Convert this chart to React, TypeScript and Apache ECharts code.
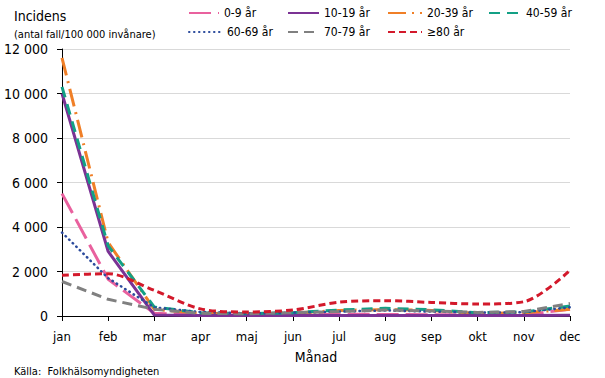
import React, { useEffect, useRef } from "react";
import * as echarts from "echarts";

const months = ["jan", "feb", "mar", "apr", "maj", "jun", "jul", "aug", "sep", "okt", "nov", "dec"];
const seriesNames = ["0-9 år", "10-19 år", "20-39 år", "40-59 år", "60-69 år", "70-79 år", "≥80 år"];
const age0_9 = [5500, 1650, 120, 50, 40, 60, 80, 70, 60, 50, 60, 300];
const age10_19 = [10000, 2900, 40, 20, 20, 20, 20, 20, 20, 20, 20, 30];
const age20_39 = [11600, 3300, 300, 120, 90, 130, 250, 290, 250, 120, 150, 300];
const age40_59 = [10300, 3150, 400, 150, 100, 150, 270, 350, 280, 150, 180, 450];
const age60_69 = [3750, 1700, 380, 180, 120, 150, 200, 250, 200, 150, 170, 390];
const age70_79 = [1550, 750, 300, 120, 100, 150, 200, 270, 230, 160, 200, 560];
const age80 = [1830, 1900, 1150, 320, 180, 270, 620, 690, 610, 540, 640, 2050];
const yTicks = [0, 2000, 4000, 6000, 8000, 10000, 12000];

const colors = ["#E9619E", "#7B3294", "#F07F27", "#13A085", "#2B4A9C", "#808080", "#D3192B"];
const dashes: (number[] | string)[] = [[22, 7], "solid", [18, 6, 2, 6], [11, 7], [0.5, 4.5], [10, 6], [7, 4]];
const allData = [age0_9, age10_19, age20_39, age40_59, age60_69, age70_79, age80];

const FONT = "'DejaVu Sans Condensed', 'Liberation Sans', sans-serif";

const legendLeft = [188, 287, 387, 488, 188, 287, 387];
const legendTop = [6, 6, 6, 6, 25, 25, 25];
const legendW = [30, 31, 34, 32, 33, 31, 34];

export default function App() {
  const ref = useRef<HTMLDivElement>(null);
  useEffect(() => {
    const chart = echarts.init(ref.current!, undefined, { renderer: "svg" });
    const fmt = (v: number) => String(v).replace(/\B(?=(\d{3})+(?!\d))/g, " ");
    chart.setOption({
      animation: false,
      textStyle: { fontFamily: FONT },
      grid: { left: 62, right: 35, top: 49, bottom: 62 },
      title: [
        { text: "Incidens", left: 9, top: 4, textStyle: { fontFamily: FONT, fontSize: 14, fontWeight: "normal", color: "#000" } },
        { text: "(antal fall/100 000 invånare)", left: 9, top: 24, textStyle: { fontFamily: FONT, fontSize: 11, fontWeight: "normal", color: "#000" } },
        { text: "Källa:  Folkhälsomyndigheten", left: 9, top: 361, textStyle: { fontFamily: FONT, fontSize: 11, fontWeight: "normal", color: "#000" } },
      ],
      legend: seriesNames.map((n, i) => ({
        data: [n],
        left: legendLeft[i],
        top: legendTop[i],
        itemWidth: legendW[i],
        itemHeight: 14,
        padding: 0,
        itemStyle: { opacity: 0 },
        textStyle: { fontFamily: FONT, fontSize: 12, color: "#000", lineHeight: 14 },
      })),
      xAxis: {
        type: "category",
        data: months,
        boundaryGap: false,
        name: "Månad",
        nameLocation: "middle",
        nameGap: 34,
        nameTextStyle: { fontFamily: FONT, fontSize: 14, color: "#000" },
        axisLine: { lineStyle: { color: "#000", width: 1 } },
        axisTick: { alignWithLabel: true, length: 5, lineStyle: { color: "#000" } },
        axisLabel: { fontFamily: FONT, fontSize: 13, color: "#000", margin: 14 },
      },
      yAxis: {
        type: "value",
        min: 0,
        max: 12000,
        interval: 2000,
        axisLine: { show: true, lineStyle: { color: "#000", width: 1 } },
        axisTick: { show: true, length: 5, lineStyle: { color: "#000" } },
        axisLabel: { fontFamily: FONT, fontSize: 14, color: "#000", margin: 14, formatter: (v: number) => (yTicks.includes(v) ? fmt(v) : "") },
        splitLine: { lineStyle: { color: "#D9D9D9", width: 1 } },
      },
      series: seriesNames.map((name, i) => ({
        name,
        type: "line",
        data: allData[i],
        symbol: "none",
        smooth: i === 6 ? 0.3 : false,
        z: i === 1 ? 5 : 2 + i,
        lineStyle: { color: colors[i], width: i === 4 ? 2.5 : 3, type: dashes[i], cap: i === 4 ? "round" : "butt" },
        itemStyle: { color: colors[i] },
      })),
    });
    return () => chart.dispose();
  }, []);
  return <div ref={ref} style={{ position: "fixed", left: 0, top: 0, width: 605, height: 378, background: "#fff" }} />;
}
